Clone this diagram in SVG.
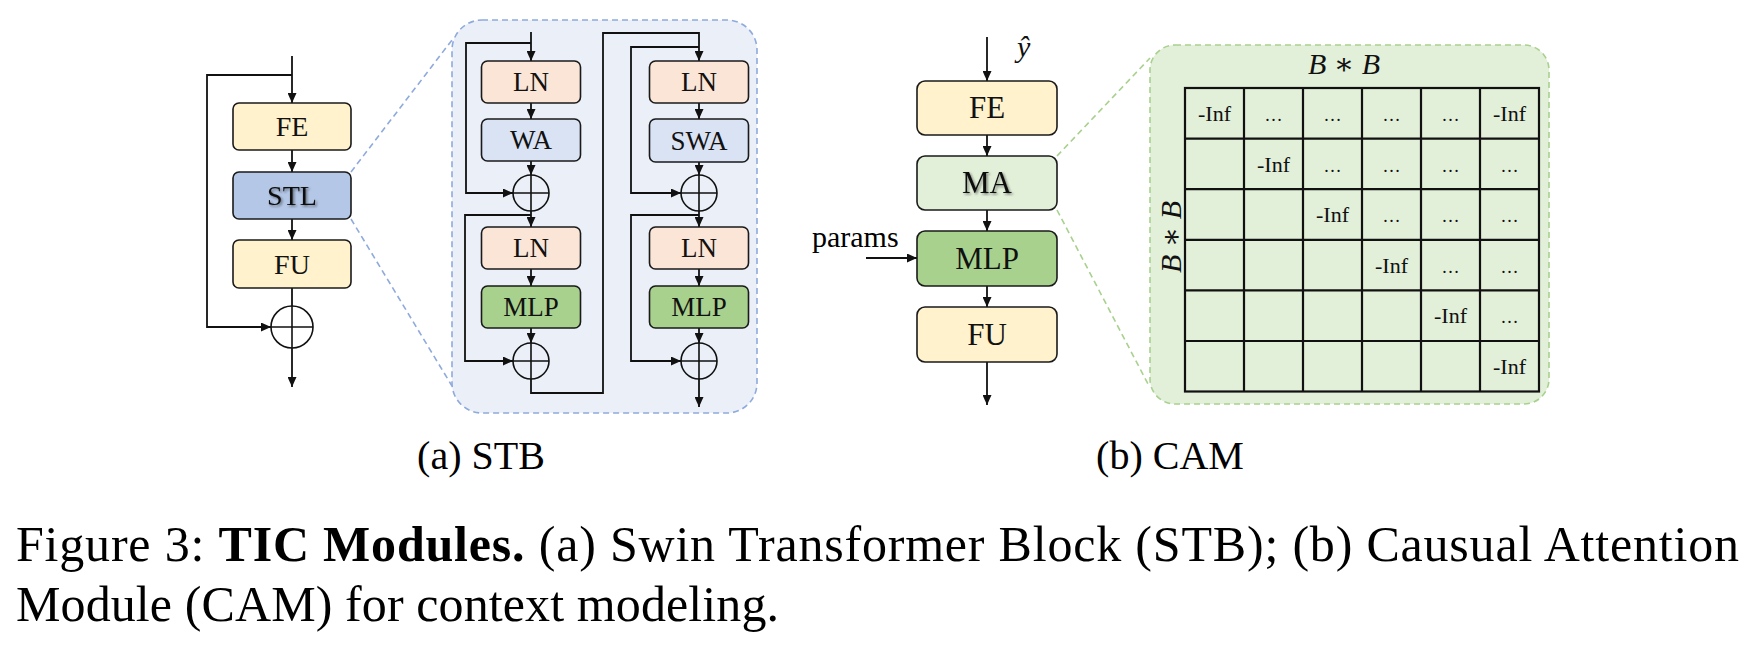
<svg xmlns="http://www.w3.org/2000/svg" width="1760" height="651" viewBox="0 0 1760 651">
<style>
  .box{stroke:#1a1a1a;stroke-width:1.6}
  .yel{fill:#FFF2CC}
  .stl{fill:#B4C7E7}
  .ln{fill:#FBE5D6}
  .wa{fill:#DAE3F3}
  .mlp{fill:#A9D18E}
  .ma{fill:#E2F0D9}
  .lbl{font-family:"Liberation Serif","Times New Roman",serif;fill:#111;text-anchor:middle}
  .conn{fill:none;stroke:#111;stroke-width:1.8}
  .arr{marker-end:url(#ah)}
  .circ{fill:none;stroke:#111;stroke-width:1.6}
  .grid{stroke:#111;stroke-width:2.2;fill:none}
  .cell{font-family:"Liberation Serif","Times New Roman",serif;font-size:22px;fill:#111;text-anchor:middle}
  .dots{font-family:"Liberation Serif","Times New Roman",serif;font-size:18px;fill:#111;text-anchor:middle}
  .math{font-family:"Liberation Serif","DejaVu Serif",serif;font-style:italic;fill:#111}
  .cap{font-family:"Liberation Serif","Times New Roman",serif;fill:#000}
</style>
<defs>
  <marker id="ah" markerUnits="userSpaceOnUse" markerWidth="10" markerHeight="9" refX="10" refY="4.5" orient="auto">
    <path d="M0,0 L10,4.5 L0,9 z" fill="#111"/>
  </marker>
  <filter id="sh" x="-20%" y="-30%" width="140%" height="160%">
    <feDropShadow dx="1.5" dy="1.5" stdDeviation="1.2" flood-color="#222" flood-opacity="0.55"/>
  </filter>
</defs>

<!-- STB zoom panel background -->
<g id="stb-panel">
  <rect x="452" y="20" width="305" height="393" rx="30" fill="#EAEFF8" stroke="#8FAADC" stroke-width="1.6" stroke-dasharray="6,4"/>
  <line x1="351" y1="172" x2="452" y2="40" stroke="#8FAADC" stroke-width="1.6" stroke-dasharray="6,4"/>
  <line x1="351" y1="219" x2="452" y2="386" stroke="#8FAADC" stroke-width="1.6" stroke-dasharray="6,4"/>
</g>

<!-- CAM zoom panel -->
<g id="cam-panel">
  <rect x="1150" y="45" width="399" height="359" rx="25" fill="#E2EFD9" stroke="#A9D18E" stroke-width="1.6" stroke-dasharray="6,4"/>
  <line x1="1057" y1="156" x2="1150" y2="58" stroke="#A9D18E" stroke-width="1.6" stroke-dasharray="6,4"/>
  <line x1="1057" y1="210" x2="1148" y2="384" stroke="#A9D18E" stroke-width="1.6" stroke-dasharray="6,4"/>
</g>

<!-- connectors -->
<g id="connectors">
  <!-- STB left -->
  <path class="conn arr" d="M292,56 V103"/>
  <path class="conn arr" d="M292,75 H207 V327 H271"/>
  <path class="conn arr" d="M292,150 V172"/>
  <path class="conn arr" d="M292,219 V240"/>
  <path class="conn" d="M292,288 V306"/>
  <path class="conn arr" d="M292,348 V387"/>
  <!-- STB inner left column -->
  <path class="conn arr" d="M531,32 V61"/>
  <path class="conn arr" d="M531,43 H466 V193 H513"/>
  <path class="conn arr" d="M531,103 V119"/>
  <path class="conn arr" d="M531,161 V175"/>
  <path class="conn arr" d="M531,211 V227"/>
  <path class="conn arr" d="M531,215 H465 V361 H513"/>
  <path class="conn arr" d="M531,269 V286"/>
  <path class="conn arr" d="M531,328 V343"/>
  <path class="conn arr" d="M531,379 V393 H603 V33 H699 V61"/>
  <!-- STB inner right column -->
  <path class="conn arr" d="M699,47 H631 V193 H681"/>
  <path class="conn arr" d="M699,103 V119"/>
  <path class="conn arr" d="M699,162 V175"/>
  <path class="conn arr" d="M699,211 V227"/>
  <path class="conn arr" d="M699,215 H631 V361 H681"/>
  <path class="conn arr" d="M699,269 V286"/>
  <path class="conn arr" d="M699,328 V343"/>
  <path class="conn arr" d="M699,379 V407"/>
  <!-- CAM -->
  <path class="conn arr" d="M987,37 V81"/>
  <path class="conn arr" d="M987,135 V156"/>
  <path class="conn arr" d="M987,210 V231"/>
  <path class="conn arr" d="M866,258 H917"/>
  <path class="conn arr" d="M987,286 V307"/>
  <path class="conn arr" d="M987,362 V405"/>
</g>

<!-- STB left column nodes -->
<g id="stb-fe">
  <rect class="box yel" x="233" y="103" width="118" height="47" rx="6"/>
  <text class="lbl" x="292" y="136" font-size="28">FE</text>
</g>
<g id="stb-stl">
  <rect class="box stl" x="233" y="172" width="118" height="47" rx="6"/>
  <text class="lbl" x="292" y="205" font-size="28" filter="url(#sh)">STL</text>
</g>
<g id="stb-fu">
  <rect class="box yel" x="233" y="240" width="118" height="48" rx="6"/>
  <text class="lbl" x="292" y="274" font-size="28">FU</text>
</g>
<g id="stb-add">
  <circle class="circ" cx="292" cy="327" r="21"/>
  <path class="circ" d="M271,327 H313 M292,306 V348"/>
</g>

<!-- STB inner nodes -->
<g id="in-ln1">
  <rect class="box ln" x="481.5" y="61" width="99" height="42" rx="6"/>
  <text class="lbl" x="531" y="91" font-size="27">LN</text>
</g>
<g id="in-wa">
  <rect class="box wa" x="481.5" y="119" width="99" height="42" rx="6"/>
  <text class="lbl" x="531" y="149" font-size="27">WA</text>
</g>
<g id="in-add1">
  <circle class="circ" cx="531" cy="193" r="18"/>
  <path class="circ" d="M513,193 H549 M531,175 V211"/>
</g>
<g id="in-ln2">
  <rect class="box ln" x="481.5" y="227" width="99" height="42" rx="6"/>
  <text class="lbl" x="531" y="257" font-size="27">LN</text>
</g>
<g id="in-mlp">
  <rect class="box mlp" x="481.5" y="286" width="99" height="42" rx="6"/>
  <text class="lbl" x="531" y="316" font-size="27">MLP</text>
</g>
<g id="in-add2">
  <circle class="circ" cx="531" cy="361" r="18"/>
  <path class="circ" d="M513,361 H549 M531,343 V379"/>
</g>
<g id="in-ln3">
  <rect class="box ln" x="649.5" y="61" width="99" height="42" rx="6"/>
  <text class="lbl" x="699" y="91" font-size="27">LN</text>
</g>
<g id="in-swa">
  <rect class="box wa" x="649.5" y="119" width="99" height="43" rx="6"/>
  <text class="lbl" x="699" y="150" font-size="27">SWA</text>
</g>
<g id="in-add3">
  <circle class="circ" cx="699" cy="193" r="18"/>
  <path class="circ" d="M681,193 H717 M699,175 V211"/>
</g>
<g id="in-ln4">
  <rect class="box ln" x="649.5" y="227" width="99" height="42" rx="6"/>
  <text class="lbl" x="699" y="257" font-size="27">LN</text>
</g>
<g id="in-mlp2">
  <rect class="box mlp" x="649.5" y="286" width="99" height="42" rx="6"/>
  <text class="lbl" x="699" y="316" font-size="27">MLP</text>
</g>
<g id="in-add4">
  <circle class="circ" cx="699" cy="361" r="18"/>
  <path class="circ" d="M681,361 H717 M699,343 V379"/>
</g>

<!-- CAM nodes -->
<g id="cam-yhat">
  <text class="math" x="1017" y="57" font-size="30">ŷ</text>
</g>
<g id="cam-fe">
  <rect class="box yel" x="917" y="81" width="140" height="54" rx="8"/>
  <text class="lbl" x="987" y="118" font-size="31">FE</text>
</g>
<g id="cam-ma">
  <rect class="box ma" x="917" y="156" width="140" height="54" rx="8"/>
  <text class="lbl" x="987" y="193" font-size="31" filter="url(#sh)">MA</text>
</g>
<g id="cam-params">
  <text class="cap" x="812" y="247" font-size="30">params</text>
</g>
<g id="cam-mlp">
  <rect class="box mlp" x="917" y="231" width="140" height="55" rx="8"/>
  <text class="lbl" x="987" y="269" font-size="31">MLP</text>
</g>
<g id="cam-fu">
  <rect class="box yel" x="917" y="307" width="140" height="55" rx="8"/>
  <text class="lbl" x="987" y="345" font-size="31">FU</text>
</g>

<!-- attention mask matrix -->
<g id="mask-matrix">
  <text class="math" x="1344" y="74" font-size="30" text-anchor="middle">B ∗ B</text>
  <text class="math" x="1181" y="237" font-size="30" text-anchor="middle" transform="rotate(-90 1181 237)">B ∗ B</text>
  <rect class="grid" x="1185" y="88" width="354" height="303.5"/>
  <path class="grid" d="M1244,88 V391.5 M1303,88 V391.5 M1362,88 V391.5 M1421,88 V391.5 M1480,88 V391.5 M1185,138.6 H1539 M1185,189.2 H1539 M1185,239.8 H1539 M1185,341 H1539"/>
  <path class="grid" d="M1185,290.4 H1539" stroke-width="4"/>
  <!-- row 1 -->
  <text class="cell" x="1214.5" y="121">-Inf</text>
  <text class="dots" x="1273.5" y="121">…</text>
  <text class="dots" x="1332.5" y="121">…</text>
  <text class="dots" x="1391.5" y="121">…</text>
  <text class="dots" x="1450.5" y="121">…</text>
  <text class="cell" x="1509.5" y="121">-Inf</text>
  <!-- row 2 -->
  <text class="cell" x="1273.5" y="171.5">-Inf</text>
  <text class="dots" x="1332.5" y="171.5">…</text>
  <text class="dots" x="1391.5" y="171.5">…</text>
  <text class="dots" x="1450.5" y="171.5">…</text>
  <text class="dots" x="1509.5" y="171.5">…</text>
  <!-- row 3 -->
  <text class="cell" x="1332.5" y="222">-Inf</text>
  <text class="dots" x="1391.5" y="222">…</text>
  <text class="dots" x="1450.5" y="222">…</text>
  <text class="dots" x="1509.5" y="222">…</text>
  <!-- row 4 -->
  <text class="cell" x="1391.5" y="272.5">-Inf</text>
  <text class="dots" x="1450.5" y="272.5">…</text>
  <text class="dots" x="1509.5" y="272.5">…</text>
  <!-- row 5 -->
  <text class="cell" x="1450.5" y="323">-Inf</text>
  <text class="dots" x="1509.5" y="323">…</text>
  <!-- row 6 -->
  <text class="cell" x="1509.5" y="373.5">-Inf</text>
</g>

<!-- captions -->
<g id="captions">
  <text class="cap" x="481" y="469" font-size="40" text-anchor="middle">(a) STB</text>
  <text class="cap" x="1170" y="469" font-size="40" text-anchor="middle">(b) CAM</text>
  <text class="cap" x="16" y="561" font-size="50" textLength="1723" lengthAdjust="spacing">Figure 3: <tspan font-weight="bold">TIC Modules.</tspan> (a) Swin Transformer Block (STB); (b) Causual Attention</text>
  <text class="cap" x="16" y="621" font-size="50" textLength="763" lengthAdjust="spacing">Module (CAM) for context modeling.</text>
</g>
</svg>
